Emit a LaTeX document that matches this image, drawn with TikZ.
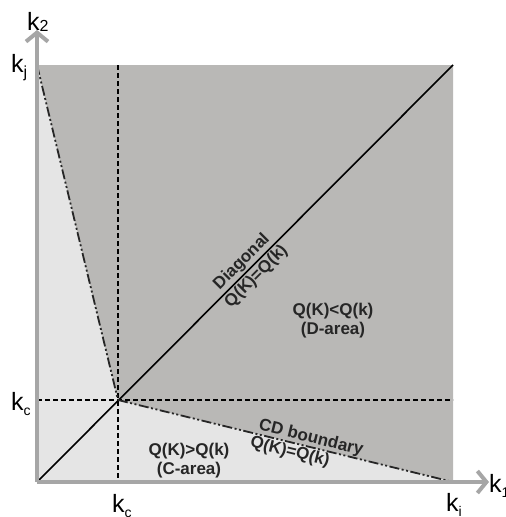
\documentclass[tikz,border=0pt]{standalone}
\usepackage{fontspec}
\setmainfont{Liberation Sans}
\usetikzlibrary{arrows.meta}
\definecolor{darkarea}{RGB}{185,184,182}
\definecolor{lightarea}{RGB}{229,229,229}
\definecolor{axisgray}{RGB}{166,166,166}
\tikzset{
  axisline/.style={draw=axisgray, line width=4pt, -{Straight Barb[length=9pt, width=22pt, line width=4pt]}},
  guide/.style={draw=black, line width=1.6pt, dash pattern=on 5pt off 3pt},
  bound/.style={draw=black!85, line width=1.8pt, dash pattern=on 10pt off 2.5pt on 2pt off 2.5pt on 2pt off 2.5pt},
  axlabel/.style={font=\fontsize{25}{27}\selectfont, inner sep=0pt},
  arealabel/.style={font=\fontsize{17}{19}\selectfont\bfseries, text=black!85, align=center, inner sep=1pt},
}
\begin{document}
\begin{tikzpicture}[x=1pt,y=-1pt]
\useasboundingbox (0,0) rectangle (506,517);
\coordinate (O) at (37,482);
\coordinate (TL) at (37,65);
\coordinate (TR) at (453,65);
\coordinate (BR) at (453,482);
\coordinate (C) at (118,400);
\coordinate (CT) at (118,65);
\coordinate (CB) at (118,482);
\coordinate (CL) at (37,400);
\coordinate (CR) at (453,400);
\coordinate (Yend) at (37,30);
\coordinate (Xend) at (489,482);
% areas
\fill[lightarea] (TL) -- (C) -- (BR) -- (O) -- cycle;
\fill[darkarea] (TL) -- (TR) -- (BR) -- (C) -- cycle;
% guides
\draw[guide] (CT) -- (CB);
\draw[guide] (CL) -- (CR);
% diagonal
\draw[black, line width=1.6pt] (O) -- (TR)
  node[pos=0.51, sloped, above, arealabel, inner sep=1.5pt] (diaglab) {Diagonal}
  node[pos=0.51, sloped, below, arealabel, inner sep=1.5pt] (diageq) {Q(K)=Q(k)};
% CD boundary
\draw[bound] (TL) -- (C);
\draw[bound] (C) -- (BR)
  node[pos=0.57, sloped, above, arealabel, inner sep=0pt] (cdlab) {CD boundary}
  node[pos=0.52, sloped, below, arealabel, inner sep=1pt] (cdeq) {Q(K)=Q(k)};
% axes
\draw[axisline] (O) -- (Yend);
\draw[axisline] (O) -- (Xend);
% area labels
\node[arealabel] (darea) at (333,321) {Q(K)<Q(k)\\(D-area)};
\node[arealabel] (carea) at (189,461) {Q(K)>Q(k)\\(C-area)};
% axis labels
\node[axlabel, anchor=base west] (k2) at (27,30) {k\raisebox{-0.1ex}{\fontsize{16}{16}\selectfont 2}};
\node[axlabel, anchor=base west] (kj) at (11,72) {k\raisebox{-0.45ex}{\fontsize{16}{16}\selectfont j}};
\node[axlabel, anchor=base west] (kcl) at (11,410) {k\raisebox{-0.45ex}{\fontsize{14}{14}\selectfont c}};
\node[axlabel, anchor=base west] (kcb) at (112,512) {k\raisebox{-0.45ex}{\fontsize{14}{14}\selectfont c}};
\node[axlabel, anchor=base west] (ki) at (446,511) {k\raisebox{-0.45ex}{\fontsize{14}{14}\selectfont i}};
\node[axlabel, anchor=base west] (k1) at (489,492) {k\raisebox{-0.45ex}{\fontsize{14}{14}\selectfont 1}};
\end{tikzpicture}
\end{document}
